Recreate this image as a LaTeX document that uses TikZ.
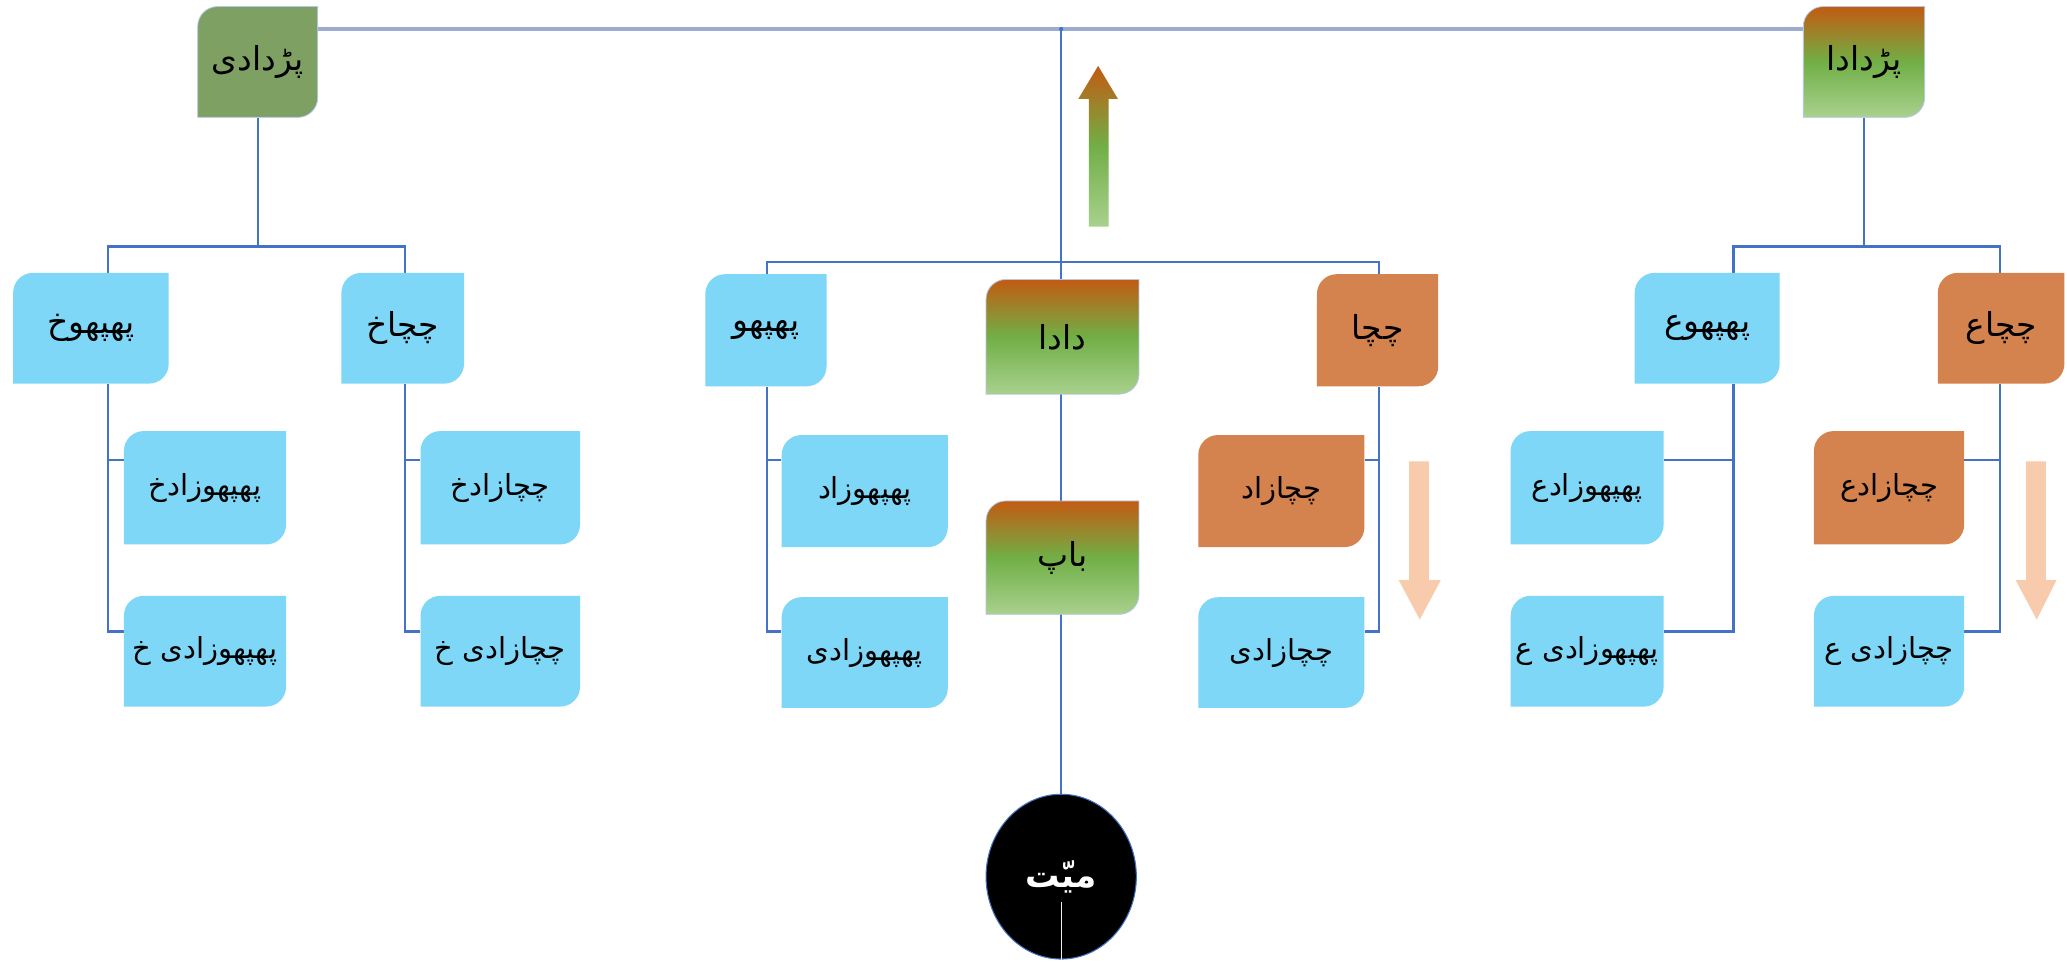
\documentclass[tikz,border=0pt]{standalone}
\usepackage{fontspec}
\usetikzlibrary{shapes.geometric}
\TeXXeTstate=1
\newfontfamily\urdu[Script=Arabic]{DejaVu Sans}
\definecolor{boxblue}{RGB}{127,215,247}
\definecolor{boxorange}{RGB}{212,130,78}
\definecolor{boxolive}{RGB}{127,160,99}
\definecolor{gtop}{RGB}{194,91,18}
\definecolor{gmid}{RGB}{113,175,70}
\definecolor{gbot}{RGB}{169,209,142}
\definecolor{lnblue}{RGB}{68,114,196}
\definecolor{lnlight}{RGB}{155,173,207}
\definecolor{edgeblue}{RGB}{180,199,231}
\definecolor{peach}{RGB}{248,203,173}
\pgfdeclarelayer{bg}
\pgfsetlayers{bg,main}
\tikzset{
  conn/.style={draw=lnblue, line width=1.6pt},
  topconn/.style={draw=lnlight, line width=2.6pt},
  bluebox/.style={fill=boxblue},
  orangebox/.style={fill=boxorange},
  olivebox/.style={fill=boxolive, draw=edgeblue, line width=0.6pt},
  gradbox/.style={top color=gtop, bottom color=gbot, middle color=gmid, draw=edgeblue, line width=0.6pt},
  boxtext/.style={inner sep=0pt, font=\urdu\fontsize{25}{30}\selectfont},
  longtext/.style={font=\urdu\fontsize{22}{26}\selectfont},
}
\newcommand\ubox[8][]{%
  \path[#7] (#3,#4+15) arc[start angle=180,end angle=90,radius=15pt] -- (#5,#4) -- (#5,#6-15)
    arc[start angle=0,end angle=-90,radius=15pt] -- (#3,#6) -- cycle;
  \node[boxtext, #1, minimum width=#5pt-#3pt, minimum height=#6pt-#4pt] (#2) at ({(#3+#5)/2},{(#4+#6)/2}) {#8};
}
\begin{document}
\begin{tikzpicture}[x=1pt,y=-1pt]
\useasboundingbox (0,0) rectangle (1568,737);
\begin{pgfonlayer}{bg}
\fill[white] (0,0) rectangle (1568,737);
\end{pgfonlayer}
% top level
\ubox{pdi}{150}{5}{241}{89}{olivebox}{\beginR پڑدادی\endR}
\ubox{pda}{1368}{5}{1460}{89}{gradbox}{\beginR پڑدادا\endR}
% left group
\ubox{phx}{10}{207}{128}{291}{bluebox}{\beginR پھپھوخ\endR}
\ubox{ccx}{259}{207}{352}{291}{bluebox}{\beginR چچاخ\endR}
\ubox[longtext]{pzx}{94}{327}{217}{413}{bluebox}{\beginR پھپھوزادخ\endR}
\ubox[longtext]{pzyx}{94}{452}{217}{536}{bluebox}{\beginR پھپھوزادی خ\endR}
\ubox[longtext]{czx}{319}{327}{440}{413}{bluebox}{\beginR چچازادخ\endR}
\ubox[longtext]{czyx}{319}{452}{440}{536}{bluebox}{\beginR چچازادی خ\endR}
% center group
\ubox{php}{535}{208}{627}{293}{bluebox}{\beginR پھپھو\endR}
\ubox{dada}{748}{212}{864}{299}{gradbox}{\beginR دادا\endR}
\ubox{cc}{999}{208}{1091}{293}{orangebox}{\beginR چچا\endR}
\ubox[longtext]{pz}{593}{330}{719}{415}{bluebox}{\beginR پھپھوزاد\endR}
\ubox[longtext]{pzy}{593}{453}{719}{537}{bluebox}{\beginR پھپھوزادی\endR}
\ubox{bap}{748}{380}{864}{466}{gradbox}{\beginR باپ\endR}
\ubox[longtext]{cz}{909}{330}{1035}{415}{orangebox}{\beginR چچازاد\endR}
\ubox[longtext]{czy}{909}{453}{1035}{537}{bluebox}{\beginR چچازادی\endR}
% right group
\ubox{phe}{1240}{207}{1350}{291}{bluebox}{\beginR پھپھوع\endR}
\ubox{cce}{1470}{207}{1566}{291}{orangebox}{\beginR چچاع\endR}
\ubox[longtext]{pze}{1146}{327}{1262}{413}{bluebox}{\beginR پھپھوزادع\endR}
\ubox[longtext]{pzye}{1146}{452}{1262}{536}{bluebox}{\beginR پھپھوزادی ع\endR}
\ubox[longtext]{cze}{1376}{327}{1490}{413}{orangebox}{\beginR چچازادع\endR}
\ubox[longtext]{czye}{1376}{452}{1490}{536}{bluebox}{\beginR چچازادی ع\endR}
% deceased
\node[ellipse, fill=black, draw=lnblue, line width=0.8pt, minimum width=114pt, minimum height=125pt, inner sep=0pt,
      text=white, font=\urdu\bfseries\fontsize{26}{30}\selectfont] (myt) at (805,665) {\beginR میّت\endR};
\coordinate (mytl) at (805,684);
\draw[white!85!gray, line width=0.7pt] (mytl) -- (myt.south);
% arrows
\shade[top color=gtop, bottom color=gbot, middle color=gmid] (826,172) -- (826,75) -- (818,75) -- (833,50) -- (848,75) -- (841,75) -- (841,172) -- cycle;
\fill[peach] (1069,350) -- (1084,350) -- (1084,440) -- (1093,440) -- (1077,470) -- (1061,440) -- (1069,440) -- cycle;
\fill[peach] (1537,350) -- (1552,350) -- (1552,440) -- (1560,440) -- (1545,470) -- (1529,440) -- (1537,440) -- cycle;
% connectors
\coordinate (top) at (805,22);
\coordinate (jL) at (195,187);
\coordinate (bL1) at (82,187);
\coordinate (bL2) at (307,187);
\coordinate (bC1) at (582,199);
\coordinate (bC2) at (1046,199);
\coordinate (jR) at (1413,187);
\coordinate (bR1) at (1315,187);
\coordinate (bR2) at (1517,187);
\coordinate (rA) at (0,349);
\coordinate (rB) at (0,479);
\begin{pgfonlayer}{bg}
\draw[topconn] (pdi.east |- top) -- (pda.west |- top);
\draw[conn] (top) -- (myt.north);
\fill[lnblue] (top) circle (1.6pt);
% left
\draw[conn] (pdi.south) -- (pdi.south |- jL);
\draw[conn] (bL1 |- phx.north) -- (bL1) -- (bL2) -- (bL2 |- ccx.north);
\draw[conn] (bL1 |- phx.south) -- (bL1 |- rB) -- (pzyx.west |- rB);
\draw[conn] (bL1 |- rA) -- (pzx.west |- rA);
\draw[conn] (bL2 |- ccx.south) -- (bL2 |- rB) -- (czyx.west |- rB);
\draw[conn] (bL2 |- rA) -- (czx.west |- rA);
% center
\draw[conn] (bC1 |- php.north) -- (bC1) -- (bC2) -- (bC2 |- cc.north);
\draw[conn] (bC1 |- php.south) -- (bC1 |- rB) -- (pzy.west |- rB);
\draw[conn] (bC1 |- rA) -- (pz.west |- rA);
\draw[conn] (bC2 |- cc.south) -- (bC2 |- rB) -- (czy.east |- rB);
\draw[conn] (bC2 |- rA) -- (cz.east |- rA);
% right
\draw[conn] (pda.south) -- (pda.south |- jR);
\draw[conn] (bR1 |- phe.north) -- (bR1) -- (bR2) -- (bR2 |- cce.north);
\draw[conn] (bR1 |- phe.south) -- (bR1 |- rB) -- (pzye.east |- rB);
\draw[conn] (bR1 |- rA) -- (pze.east |- rA);
\draw[conn] (bR2 |- cce.south) -- (bR2 |- rB) -- (czye.east |- rB);
\draw[conn] (bR2 |- rA) -- (cze.east |- rA);
\end{pgfonlayer}
\end{tikzpicture}
\end{document}
